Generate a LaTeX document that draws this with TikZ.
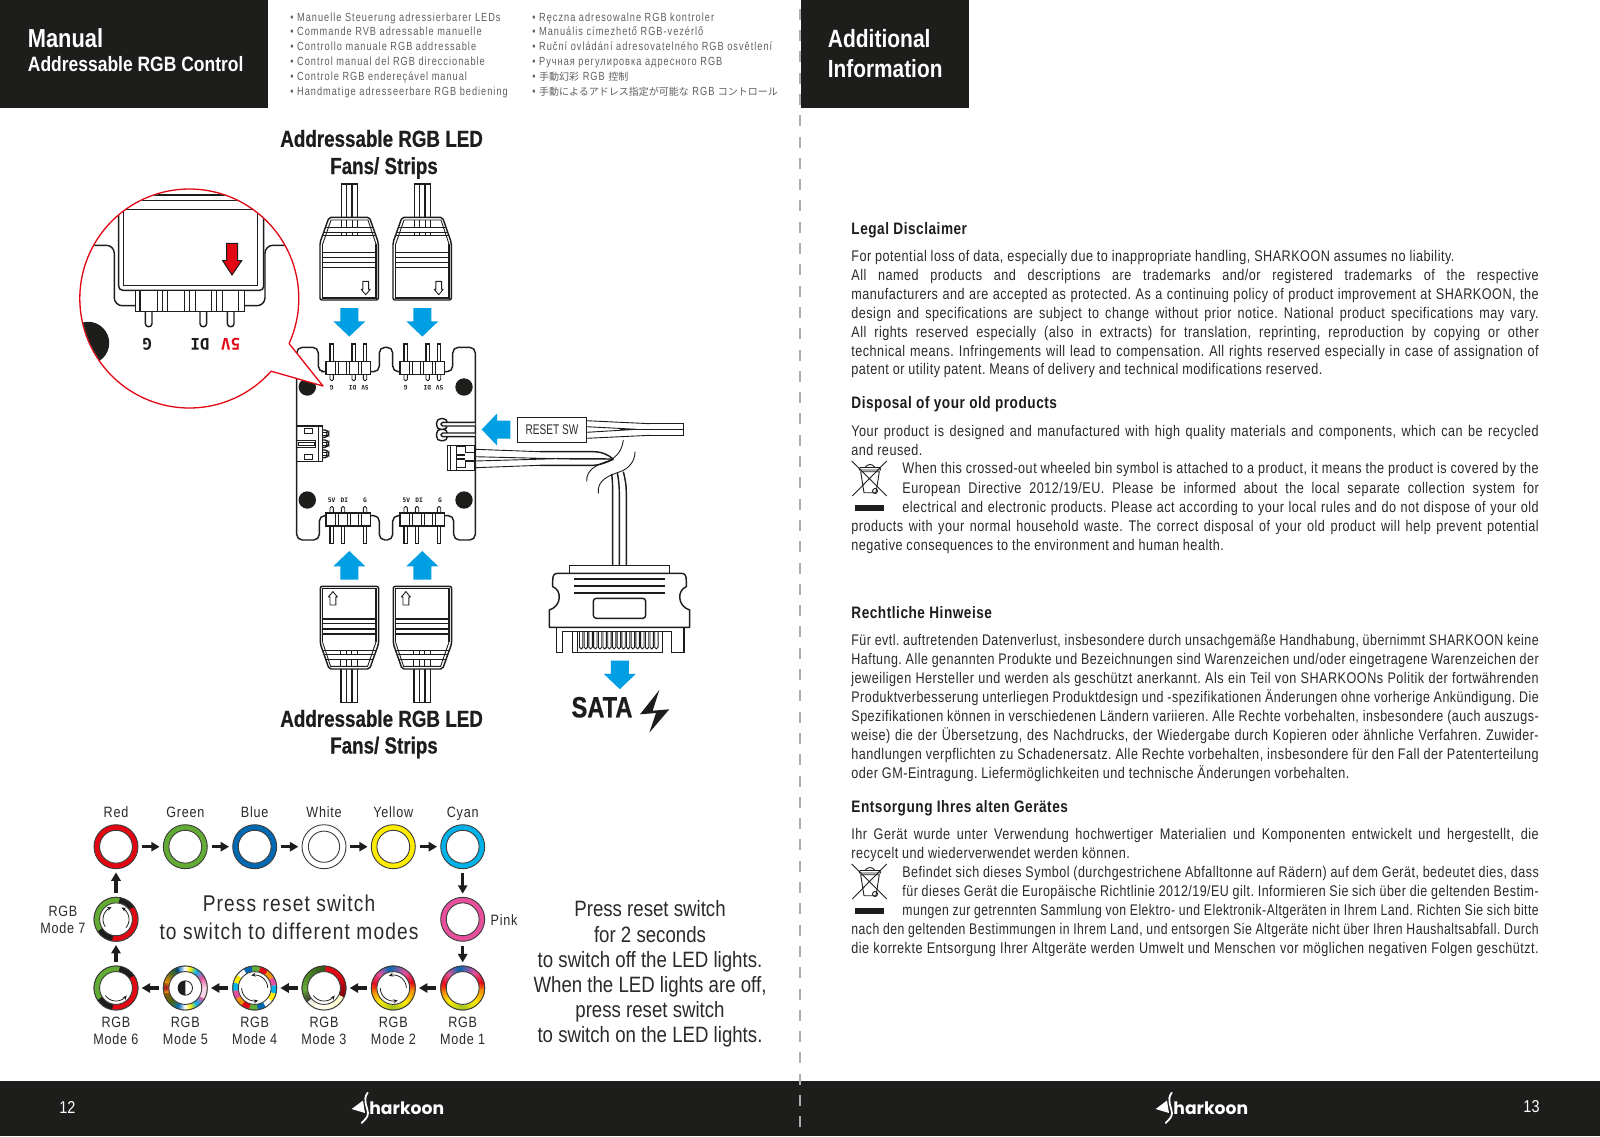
\documentclass[tikz,border=0pt]{standalone}
\usepackage{fontspec}
\usepackage{graphicx}
\usetikzlibrary{arrows.meta}
\setmainfont{Liberation Sans}
\newfontfamily\cond[FakeStretch=0.82,LetterSpace=3.2]{Liberation Sans}
\newfontfamily\condl[FakeStretch=0.84]{Liberation Sans}
\newfontfamily\condls[FakeStretch=0.84,LetterSpace=5]{Liberation Sans}
\newfontfamily\condb[FakeStretch=0.84]{Liberation Sans}
\newfontfamily\condh[FakeStretch=0.81,BoldFeatures={FakeBold=0.6}]{Liberation Sans}
\newfontfamily\resetf[FakeStretch=0.72]{Liberation Sans}
\newfontfamily\bul[FakeStretch=0.78,LetterSpace=8.5]{Liberation Sans}
\newfontfamily\cjk{Noto Sans CJK JP}
\newfontfamily\monob{DejaVu Sans Mono}
\newfontfamily\logof{Poppins}
\definecolor{ink}{HTML}{1D1D1B}
\definecolor{txt}{HTML}{2B2A29}
\definecolor{bulgray}{HTML}{5F5F5E}
\definecolor{blu}{HTML}{009FE3}
\definecolor{rd}{HTML}{E30613}
\definecolor{grn}{HTML}{63AC33}
\definecolor{bl2}{HTML}{0069B4}
\definecolor{yel}{HTML}{FFED00}
\definecolor{cyn}{HTML}{00B2E8}
\definecolor{pnk}{HTML}{E74F9D}
\definecolor{org}{HTML}{F39200}
\definecolor{lim}{HTML}{A8C31D}
\definecolor{edge}{HTML}{3C3C3B}
\newcounter{tl}
\newsavebox\fitb
\newlength\fitw
\newcommand\wordgap{\spaceskip=.25em plus 1em\relax}
\newcommand\fitline[2]{\setlength\fitw{#1}\wordgap\sbox\fitb{#2}\ifdim\wd\fitb>\fitw\resizebox{\fitw}{\height}{\usebox\fitb}\else\makebox[\fitw][s]{#2}\fi}
\tikzset{
  ln/.style={line width=.72pt,draw=ink},
  thinln/.style={line width=.45pt,draw=ink},
  tline/.style={anchor=base west,inner sep=0pt,text=txt,font=\cond\fontsize{7.7}{9}\selectfont\frenchspacing},
  thead/.style={anchor=base west,inner sep=0pt,text=ink,font=\cond\bfseries\fontsize{8.3}{9}\selectfont},
  bullet/.style={anchor=base west,inner sep=0pt,text=bulgray,font=\bul\fontsize{5.9}{7}\selectfont},
  ttl/.style={anchor=base west,inner sep=0pt,text=white,font=\condb\bfseries},
  hd/.style={anchor=center,inner sep=0pt,text=ink,font=\condh\bfseries\fontsize{11.6}{13}\selectfont},
  lab/.style={anchor=base,inner sep=0pt,text=txt,font=\condls\fontsize{7.5}{8}\selectfont},
  bigl/.style={anchor=base,inner sep=0pt,text=txt,font=\condls\fontsize{11.4}{12}\selectfont},
  big/.style={anchor=base,inner sep=0pt,text=txt,font=\condl\fontsize{11.1}{12}\selectfont},
  pinlab/.style={anchor=center,inner sep=0pt,text=ink,font=\monob\bfseries\fontsize{3.1}{4}\selectfont},
  zoomlab/.style={anchor=center,inner sep=0pt,text=ink,font=\monob\bfseries\fontsize{8}{9}\selectfont},
  ring/.style={circle,inner sep=0pt,minimum size=22pt,draw=edge,line width=.45pt,fill=#1},
  ringtop/.style={circle,inner sep=0pt,minimum size=16.4pt,draw=edge,line width=.45pt,fill=white},
  flow/.style={line width=1.75pt,draw=ink,-{Triangle[length=4.2pt,width=4.6pt]},shorten <=2pt,shorten >=1.6pt},
  spin/.style={line width=.38pt,draw=ink,-{Stealth[length=2.2pt,width=2pt]}},
  bluehead/.pic={\fill[blu] (-9,-14.3) -- (9,-14.3) -- (9,-1) -- (16,-1) -- (0,14.3) -- (-16,-1) -- (-9,-1) -- cycle;},
  fanplug/.pic={
    \begin{scope}[shift={(-349.3,-443.15)}]
      \draw[ln] (341.3,217.3) -- (341.3,184) -- (357.7,184) -- (357.7,217.3);
      \draw[ln] (346.7,184) -- (346.7,217.3) (352,184) -- (352,217.3);
      \draw[ln,line join=round,rounded corners=1pt] (329,217.3) -- (369.5,217.3) -- (378.3,242.5) -- (378.3,300) -- (320,300) -- (320,242.5) -- cycle;
      \draw[thinln] (322.7,244) -- (331,220) -- (368,220) -- (376,244);
      \draw[ln] (322.7,244) -- (322.7,298) -- (376,298) -- (376,244);
      \draw[thinln] (325.5,227.3) -- (373,227.3) (323.8,232.3) -- (374.8,232.3) (323,235.7) -- (375.6,235.7);
      \draw[thinln] (341.3,220) -- (341.3,227.3) (346.7,220) -- (346.7,227.3) (352,220) -- (352,227.3) (357.7,220) -- (357.7,227.3);
      \draw[thinln] (341.3,232.3) -- (341.3,235.7) (346.7,232.3) -- (346.7,235.7) (352,232.3) -- (352,235.7) (357.7,232.3) -- (357.7,235.7);
      \draw[ln] (322.7,252.3) -- (376,252.3) (322.7,257.3) -- (376,257.3) (322.7,262.7) -- (376,262.7) (322.7,267.3) -- (376,267.3);
      \draw[thinln,line join=round] (362.8,281.3) -- (368.6,281.3) -- (368.6,289.3) -- (370.2,289.3) -- (365.7,294.7) -- (361.2,289.3) -- (362.8,289.3) -- cycle;
    \end{scope}},
  hdr/.pic={
    \begin{scope}[shift={(-348.35,-367.8)}]
      \foreach \p in {331.7,353.7,365}{
        \draw[ln,fill=white] (\p-1.7,361.3) -- (\p-1.7,344) -- (\p+1.7,344) -- (\p+1.7,361.3);
        \draw[thinln,fill=white,rounded corners=.7pt] (\p-1.7,374.3) -- (\p-1.7,380.7) -- (\p+1.7,380.7) -- (\p+1.7,374.3);
      }
      \draw[ln,fill=white] (326,361.3) rectangle (370.7,374.3);
      \foreach \v in {335,338.2,346.5,349.3,358,361}{\draw[thinln] (\v,361.3) -- (\v,374.3);}
    \end{scope}},
  binicon/.pic={
    \draw[thinln] (851.7,461) -- (886.7,496) (886.7,461) -- (852.3,496);
    \draw[thinln] (860.7,471.7) -- (879.3,471.7) -- (876,492.7) -- (864,492.7) -- cycle;
    \draw[thinln] (859.5,470) -- (880.5,470) -- (880,467.5) -- (860,467.5) -- cycle;
    \draw[thinln] (865,467.5) .. controls (867,463.5) and (873,463.5) .. (875,467.5);
    \draw[thinln] (875,491) circle[radius=1.25pt];
    \fill[ink] (855,505) rectangle (884.3,510.7);},
  logomark/.pic={
    \fill[white] (351.7,1109) -- (363,1100.5) -- (365,1113) -- cycle;
    \draw[white,line width=.9pt,line cap=round] (367.7,1092.7) .. controls (362,1100) and (368,1108) .. (368,1113) .. controls (368,1118) and (364,1120) .. (361.7,1123);
    \node[anchor=west,inner sep=0pt,text=white,font=\logof\bfseries\fontsize{8.6}{10}\selectfont] (lg) at (369,1108.5) {harkoon};},
}
\newcommand\tlnode[3]{\stepcounter{tl}\node[#1] (tl\arabic{tl}) at #2 {#3};}
\newcommand\BN[2]{\tlnode{tline}{(851,{#1+1.5})}{\wordgap #2}}
\newcommand\BJ[2]{\tlnode{tline}{(851,{#1+1.5})}{\fitline{343.7pt}{#2}}}
\newcommand\BI[2]{\tlnode{tline}{(902,{#1+1.5})}{\fitline{318.2pt}{#2}}}
\newcommand\BH[2]{\tlnode{thead}{(851,{#1+1.5})}{#2}}
\newcommand\BU[3]{\tlnode{bullet}{(#1,#2)}{#3}}
% ring band helpers: angles run clockwise on the page, 0 = east
\newcommand\seg[4]{\begin{scope}[shift={(#1.center)}]\draw[line width=2.9pt,draw=#4] plot[domain=#2:#3,samples=6] ({19.3*cos(\x)},{19.3*sin(\x)});\end{scope}}
\newcommand\grad[5]{\foreach \i in {0,...,7}{
  \pgfmathsetmacro\aa{#2+(#3-#2)*\i/8}\pgfmathsetmacro\bb{#2+(#3-#2)*(\i+1.25)/8}\pgfmathsetmacro\pp{(\i+.5)*12.5}
  \seg{#1}{\aa}{\bb}{#5!\pp!#4}}}
\newcommand\ringover[1]{\draw[line width=.45pt,draw=edge] (#1.center) circle[radius=11pt]; \node[ringtop] at (#1.center) {};}
\newcommand\spinarc[4]{\begin{scope}[shift={(#1.center)}]\draw[spin] plot[domain=#2:#3,samples=14] ({#4*cos(\x)},{#4*sin(\x)});\end{scope}}
\newcommand\bbarring[1]{\seg{#1}{145}{282}{grn}\seg{#1}{280}{327}{ink}\seg{#1}{325}{462}{rd}\seg{#1}{100}{147}{ink}}
\newcommand\rainbow[1]{\grad{#1}{260}{310}{bl2}{pnk}\grad{#1}{310}{345}{pnk}{rd}\grad{#1}{345}{370}{rd}{org}\grad{#1}{10}{50}{org}{yel}\grad{#1}{50}{90}{yel}{lim}\grad{#1}{90}{135}{lim}{yel}\grad{#1}{135}{165}{yel}{org}\grad{#1}{165}{190}{org}{rd}\grad{#1}{190}{225}{rd}{pnk}\grad{#1}{225}{260}{pnk}{bl2}}
\begin{document}
\begin{tikzpicture}[x=.5pt,y=-.5pt]
\path[use as bounding box,fill=white] (0,0) rectangle (1600,1136);
% bars
\fill[ink] (0,0) rectangle (268,108);
\fill[ink] (801,0) rectangle (968.5,108);
\fill[ink] (0,1081) rectangle (1600,1136);
\draw[line width=1.3pt,draw=black!32,dash pattern=on 5.5pt off 5.15pt] (800,8.75) -- (800,1136);
% titles
\node[ttl,font=\condb\bfseries\fontsize{13}{14}\selectfont] (t1) at (27.5,47) {Manual};
\node[ttl,font=\condb\bfseries\fontsize{10.4}{12}\selectfont] (t2) at (27.5,71.5) {Addressable RGB Control};
\node[ttl,font=\condb\bfseries\fontsize{12.5}{14}\selectfont] (t3) at (827.5,47) {Additional};
\node[ttl,font=\condb\bfseries\fontsize{12.4}{14}\selectfont] (t4) at (827.5,77) {Information};
% bullets
\BU{290}{21.5}{• Manuelle Steuerung adressierbarer LEDs}
\BU{290}{35.8}{• Commande RVB adressable manuelle}
\BU{290}{50.6}{• Controllo manuale RGB addressable}
\BU{290}{65.4}{• Control manual del RGB direccionable}
\BU{290}{80.2}{• Controle RGB endereçável manual}
\BU{290}{95}{• Handmatige adresseerbare RGB bediening}
\BU{532}{21.5}{• Ręczna adresowalne RGB kontroler}
\BU{532}{35.8}{• Manuális címezhető RGB-vezérlő}
\BU{532}{50.6}{• Ruční ovládání adresovatelného RGB osvětlení}
\BU{532}{65.4}{• Ручная регулировка адресного RGB}
\BU{532}{80.2}{• {\cjk\fontsize{5}{7}\selectfont 手動幻彩} RGB {\cjk\fontsize{5}{7}\selectfont 控制}}
\BU{532}{95}{• {\cjk\fontsize{5}{7}\selectfont 手動によるアドレス指定が可能な} RGB {\cjk\fontsize{5}{7}\selectfont コントロール}}
% right page
\BH{233}{Legal Disclaimer}
\BN{260.1}{For potential loss of data, especially due to inappropriate handling, SHARKOON assumes no liability.}
\BJ{279}{All named products and descriptions are trademarks and/or registered trademarks of the respective}
\BJ{297.9}{manufacturers and are accepted as protected. As a continuing policy of product improvement at SHARKOON, the}
\BJ{316.8}{design and specifications are subject to change without prior notice. National product specifications may vary.}
\BJ{335.6}{All rights reserved especially (also in extracts) for translation, reprinting, reproduction by copying or other}
\BJ{354.5}{technical means. Infringements will lead to compensation. All rights reserved especially in case of assignation of}
\BN{373.4}{patent or utility patent. Means of delivery and technical modifications reserved.}
\BH{407}{Disposal of your old products}
\BJ{434.6}{Your product is designed and manufactured with high quality materials and components, which can be recycled}
\BN{454}{and reused.}
\BI{472.4}{When this crossed-out wheeled bin symbol is attached to a product, it means the product is covered by the}
\BI{491.8}{European Directive 2012/19/EU. Please be informed about the local separate collection system for}
\BI{511.1}{electrical and electronic products. Please act according to your local rules and do not dispose of your old}
\BJ{530}{products with your normal household waste. The correct disposal of your old product will help prevent potential}
\BN{548.9}{negative consequences to the environment and human health.}
\BH{617.3}{Rechtliche Hinweise}
\BJ{643.8}{Für evtl. auftretenden Datenverlust, insbesondere durch unsachgemäße Handhabung, übernimmt SHARKOON keine}
\BJ{663.2}{Haftung. Alle genannten Produkte und Bezeichnungen sind Warenzeichen und/oder eingetragene Warenzeichen der}
\BJ{682}{jeweiligen Hersteller und werden als geschützt anerkannt. Als ein Teil von SHARKOONs Politik der fortwährenden}
\BJ{701}{Produktverbesserung unterliegen Produktdesign und -spezifikationen Änderungen ohne vorherige Ankündigung. Die}
\BJ{719.8}{Spezifikationen können in verschiedenen Ländern variieren. Alle Rechte vorbehalten, insbesondere (auch auszugs-}
\BJ{738.7}{weise) die der Übersetzung, des Nachdrucks, der Wiedergabe durch Kopieren oder ähnliche Verfahren. Zuwider-}
\BJ{757.6}{handlungen verpflichten zu Schadenersatz. Alle Rechte vorbehalten, insbesondere für den Fall der Patenterteilung}
\BN{776.5}{oder GM-Eintragung. Liefermöglichkeiten und technische Änderungen vorbehalten.}
\BH{811}{Entsorgung Ihres alten Gerätes}
\BJ{837.7}{Ihr Gerät wurde unter Verwendung hochwertiger Materialien und Komponenten entwickelt und hergestellt, die}
\BN{857}{recycelt und wiederverwendet werden können.}
\BI{876}{Befindet sich dieses Symbol (durchgestrichene Abfalltonne auf Rädern) auf dem Gerät, bedeutet dies, dass}
\BI{894.8}{für dieses Gerät die Europäische Richtlinie 2012/19/EU gilt. Informieren Sie sich über die geltenden Bestim-}
\BI{913.7}{mungen zur getrennten Sammlung von Elektro- und Elektronik-Altgeräten in Ihrem Land. Richten Sie sich bitte}
\BJ{932.6}{nach den geltenden Bestimmungen in Ihrem Land, und entsorgen Sie Altgeräte nicht über Ihren Haushaltsabfall. Durch}
\BJ{952}{die korrekte Entsorgung Ihrer Altgeräte werden Umwelt und Menschen vor möglichen negativen Folgen geschützt.}
\pic (bin1) at (0,0) {binicon};
\pic (bin2) at (0,403) {binicon};
% footer
\node[anchor=center,inner sep=0pt,text=white,font=\condl\fontsize{8.6}{9}\selectfont] (p12) at (67.5,1107) {12};
\node[anchor=center,inner sep=0pt,text=white,font=\condl\fontsize{8.6}{9}\selectfont] (p13) at (1531.5,1107) {13};
\pic (lg1) at (0,0) {logomark};
\pic (lg2) at (804,0) {logomark};
% headings
\node[hd] (h1) at (381.6,138.5) {Addressable RGB LED};
\node[hd] (h2) at (384,168) {Fans/ Strips};
\node[hd] (h3) at (381.6,718.5) {Addressable RGB LED};
\node[hd] (h4) at (384,747.5) {Fans/ Strips};
% fan plugs
\pic (pa) at (349.3,443.15) {fanplug};
\pic (pb) at (422.3,443.15) {fanplug};
\pic[rotate=180] (pc) at (349.3,443.15) {fanplug};
\pic[rotate=180] (pd) at (422.3,443.15) {fanplug};
\pic (ba) at (349.3,322.3) {bluehead};
\pic (bb) at (422.3,322.3) {bluehead};
\pic[rotate=180] (bc) at (349.3,565.3) {bluehead};
\pic[rotate=180] (bd) at (422.3,565.3) {bluehead};
\pic[rotate=-90] (be) at (496,429.5) {bluehead};
\pic (bf) at (619.8,674.9) {bluehead};
% board
\draw[ln,rounded corners=2.8pt] (296.7,400) -- (296.7,347.3) -- (318.3,347.3) -- (318.3,371.7) -- (327,371.7) -- (379.3,371.7) -- (379.3,347.3) -- (392.7,347.3) -- (392.7,371.7) -- (452.7,371.7) -- (452.7,347.3) -- (475.3,347.3) -- (475.3,540) -- (453.7,540) -- (453.7,515.6) -- (392.7,515.6) -- (392.7,540) -- (379.3,540) -- (379.3,515.6) -- (319.3,515.6) -- (319.3,540) -- (296.7,540) -- (296.7,400);
\pic (h11) at (348.35,367.8) {hdr};
\pic (h12) at (422.35,367.8) {hdr};
\pic[rotate=180] (h21) at (348.35,519.5) {hdr};
\pic[rotate=180] (h22) at (422.35,519.5) {hdr};
\foreach \hx/\hy in {307.3/387,464/387,307.3/500,464/500}{\fill[ink] (\hx,\hy) circle[radius=4.35pt];}
% board labels
\node[pinlab,rotate=180] (gl1) at (331.7,387.3) {G};
\node[pinlab,rotate=180] (dl1) at (352.7,387.3) {DI};
\node[pinlab,rotate=180] (vl1) at (365,387.3) {5V};
\node[pinlab,rotate=180] (gl2) at (405.7,387.3) {G};
\node[pinlab,rotate=180] (dl2) at (427.3,387.3) {DI};
\node[pinlab,rotate=180] (vl2) at (439.7,387.3) {5V};
\node[pinlab] (vl3) at (331.7,500.7) {5V};
\node[pinlab] (dl3) at (344.3,500.7) {DI};
\node[pinlab] (gl3) at (365,500.7) {G};
\node[pinlab] (vl4) at (406.3,500.7) {5V};
\node[pinlab] (dl4) at (419,500.7) {DI};
\node[pinlab] (gl4) at (440,500.7) {G};
% left socket on the board
\draw[ln] (296.7,426) -- (322.7,426) -- (322.7,461.7) -- (296.7,461.7);
\draw[thinln] (318.3,426) -- (318.3,461.7);
\draw[ln] (304.3,428.3) rectangle (312.7,433.3) (304.3,454.3) rectangle (312.7,459.3);
\draw[ln] (296.7,440.3) rectangle (315.7,447.3);
\draw[thinln] (298.3,442.3) rectangle (314,445.3);
\foreach \ya/\yb in {430/437.3,440/447.3,450/457.7}{\draw[ln,rounded corners=2pt] (322.7,\ya) -- (328.7,\ya) -- (328.7,\yb) -- (322.7,\yb);\draw[thinln] (322.7,\ya+2) -- (326,\ya+2) -- (326,\yb-2) -- (322.7,\yb-2);}
% right pins on the board
\draw[ln,rounded corners=2pt] (436.7,418.7) rectangle (447.3,429.3) (436.7,429.3) rectangle (447.3,440.7);
\draw[ln,fill=white,rounded corners=.8pt] (475,422.3) -- (441,422.3) -- (441,426) -- (475,426);
\draw[ln,fill=white,rounded corners=.8pt] (475,433) -- (441,433) -- (441,436.7) -- (475,436.7);
% right socket and wires
\draw[ln] (447.3,445.3) rectangle (475,470.3);
\draw[thinln] (450.7,445.3) -- (450.7,470.3);
\draw[ln] (456.7,445.3) -- (456.7,470.3);
\draw[ln] (456.7,446.3) -- (465.7,446.3) -- (465.7,452.7) -- (474.5,452.7) -- (474.5,461) -- (465.7,461) -- (465.7,467.5) -- (456.7,467.5) (456.7,455) -- (465,455) (456.7,459) -- (465,459);
\draw[thinln] (475,449.3) -- (540,451.7);
\draw[ln] (540,451.7) -- (593.3,451.7) .. controls (602,451.7) and (609,455) .. (613.3,459.3);
\draw[thinln] (475,456.7) -- (556.7,458.7) (475,461) -- (556.7,458.7);
\draw[ln] (556.7,458.7) -- (613.3,459);
\draw[thinln] (475,467.7) -- (540,465.3);
\draw[ln] (540,465.3) -- (593.3,465.3) .. controls (601,465) and (607,462) .. (613.3,459.3);
\draw[thinln] (623.3,440) .. controls (622,452) and (615,458) .. (608,461) .. controls (596,465) and (586,470) .. (586.7,481.7);
\draw[thinln] (635,451.7) .. controls (635,462) and (628,469) .. (620,471.7) .. controls (608,476) and (597,480) .. (598.3,493.3);
\draw[ln] (611.7,474) .. controls (612.4,480) and (612.7,486) .. (612.7,493) -- (612.7,565.3);
\draw[ln] (617.3,472.7) .. controls (618.7,480) and (619.3,486) .. (619.3,493) -- (619.3,565.3);
\draw[ln] (623.3,471.7) .. controls (625.5,480) and (626.3,486) .. (626.3,493) -- (626.3,565.3);
% reset switch
\node[draw=ink,line width=.72pt,inner sep=0pt,minimum width=34.7pt,minimum height=12.5pt,text=txt,font=\resetf\fontsize{7}{9}\selectfont] (rst) at (552,429.8) {RESET SW};
\draw[thinln] (586.7,420.7) -- (650,423.7);
\draw[thinln] (586.7,426.7) -- (636.7,429.3) (586.7,432.3) -- (636.7,429.3) (586.7,438.3) -- (650,435.3);
\draw[ln] (650,423.7) -- (683.3,423.7) -- (683.3,435.3) -- (650,435.3) (620,429.3) -- (683.3,429.3);
% SATA plug
\draw[ln,fill=white] (569.3,573.3) rectangle (669.3,565.3);
\draw[ln,fill=white,line join=round] (552.7,581) .. controls (552.7,575) and (554,573.3) .. (558,573.3) -- (681,573.3) .. controls (685,573.3) and (686.3,575) .. (686.3,581) -- (686.3,586.7) .. controls (677,590) and (677,606) .. (689.7,610) -- (689.7,627.3) -- (549.3,627.3) -- (549.3,610) .. controls (562,606) and (562,590) .. (552.7,586.7) -- cycle;
\draw[line width=1.1pt,draw=ink] (574.3,579.3) -- (665,579.3) (574.3,586) -- (665,586) (574.3,592.7) -- (665,592.7);
\draw[ln,rounded corners=1.5pt] (593.3,598.3) rectangle (645.7,618.3);
\draw[ln] (556.3,627.3) -- (556.3,652.3) -- (562.7,652.3) -- (562.7,631.3) -- (671.7,631.3) -- (671.7,652.3) -- (684,652.3) -- (684,627.3);
\draw[ln] (572.3,631.3) -- (572.3,652.3) -- (662.7,652.3) -- (662.7,631.3);
\draw[ln] (577.7,631.3) -- (577.7,652.3);
\foreach \tx in {579.5,584.2,...,658}{\draw[thinln,rounded corners=.8pt] (\tx,631.3) -- (\tx,648.8) -- (\tx+3.4,648.8) -- (\tx+3.4,631.3);}
% SATA label
\node[anchor=base,inner sep=0pt,text=ink,font=\condh\bfseries\fontsize{14.6}{16}\selectfont] (sata) at (602,717.3) {SATA};
\fill[ink] (659.3,690) -- (640,714.3) -- (656,713) -- (649.3,732.7) -- (669.3,709.3) -- (652.7,710.7) -- cycle;
% callout
\begin{scope}
\draw[line width=.65pt,draw=rd,fill=white,line join=round] plot[domain=41.6:384.3,samples=150] ({189.3+109.5*cos(\x)},{298.5+109.5*sin(\x)}) -- (323,386) -- cycle;
\clip (189.3,298.5) circle[radius=54.4pt];
\fill[ink] (88,343) circle[radius=10.6pt];
\draw[ln] (80,195) -- (300,195) (80,200.7) -- (300,200.7);
\draw[ln] (123.3,209.3) -- (257.7,209.3) -- (257.7,285.7) -- (123.3,285.7) -- cycle;
\draw[ln] (80,209.3) -- (300,209.3);
\draw[ln,rounded corners=2pt] (118.7,190) -- (118.7,290.3) -- (263.7,290.3) -- (263.7,190);
\draw[ln,rounded corners=4pt] (85,245.3) -- (114.3,245.3) -- (114.3,305.7) -- (135.3,305.7);
\draw[ln,rounded corners=4pt] (290,245.3) -- (265,245.3) -- (265,305.7) -- (245,305.7);
\foreach \p in {148.7,203.3,230.7}{\draw[ln,rounded corners=1.5pt] (\p-3.3,311.3) -- (\p-3.3,326.7) -- (\p+3.3,326.7) -- (\p+3.3,311.3);}
\draw[ln,fill=white] (135.3,290.3) rectangle (244.7,311.3);
\foreach \v in {140,157.3,162.3,167.3,184.3,189.3,195.3,211.3,216.3,222.3,238.7}{\draw[ln] (\v,290.3) -- (\v,311.3);}
\draw[line width=.5pt,draw=ink,fill=rd] (226.7,243.3) -- (237.7,243.3) -- (237.7,260.7) -- (241.7,260.7) -- (232,275) -- (222.7,260.7) -- (226.7,260.7) -- cycle;
\node[zoomlab,rotate=180] (zg) at (147.3,344) {G};
\node[zoomlab,rotate=180] (zd) at (200,344) {DI};
\node[zoomlab,rotate=180,text=rd] (zv) at (230.7,344) {5V};
\end{scope}
% ring nodes
\node[ring=rd] (rr) at (116,846.7) {};
\node[ring=grn] (rg) at (185.3,846.7) {};
\node[ring=bl2] (rb) at (254.7,846.7) {};
\node[ring=white] (rw) at (324,846.7) {};
\node[ring=yel] (ry) at (393.3,846.7) {};
\node[ring=cyn] (rc) at (462.7,846.7) {};
\node[ring=pnk] (rp) at (462.7,919.3) {};
\node[ring=white] (m1) at (462.7,988) {};
\node[ring=white] (m2) at (393.3,988) {};
\node[ring=white] (m3) at (324,988) {};
\node[ring=white] (m4) at (254.7,988) {};
\node[ring=white] (m5) at (185.3,988) {};
\node[ring=white] (m6) at (116,988) {};
\node[ring=white] (m7) at (116,919.3) {};
\rainbow{m1}\rainbow{m2}
\seg{m3}{270}{340}{rd}\grad{m3}{325}{385}{rd}{rd!55!black}\grad{m3}{25}{120}{yel!22!white}{yel!12!white}\grad{m3}{115}{140}{yel!12!white}{edge}\grad{m3}{140}{175}{edge}{grn}\grad{m3}{175}{271}{grn}{grn!50!black}
\foreach \k/\col in {0/grn,1/rd,2/org,3/pnk,4/cyn,5/yel,6/white,7/bl2,8/grn,9/rd,10/org,11/pnk,12/cyn,13/yel,14/white,15/bl2}{\pgfmathsetmacro\sa{262.5+22.5*\k}\pgfmathsetmacro\sb{\sa+22.7}\seg{m4}{\sa}{\sb}{\col}}
\grad{m5}{270}{285}{white}{yel}\grad{m5}{285}{305}{yel}{cyn}\grad{m5}{305}{330}{cyn}{pnk}\grad{m5}{330}{360}{pnk}{pnk!25!white}\grad{m5}{0}{30}{pnk!25!white}{pnk}\grad{m5}{30}{55}{pnk}{cyn}\grad{m5}{55}{75}{cyn}{yel}\grad{m5}{75}{90}{yel}{white}\grad{m5}{90}{110}{white}{bl2}\grad{m5}{110}{130}{bl2}{grn!60!black}\grad{m5}{130}{165}{grn!60!black}{org}\grad{m5}{165}{180}{org}{rd!70!black}\grad{m5}{180}{195}{rd!70!black}{org}\grad{m5}{195}{230}{org}{grn!60!black}\grad{m5}{230}{250}{grn!60!black}{bl2}\grad{m5}{250}{270}{bl2}{white}
\bbarring{m6}\bbarring{m7}
\foreach \r in {rr,rg,rb,ry,rc,rp}{\node[ringtop] at (\r.center) {};}
\node[ringtop,minimum size=15.6pt] at (rw.center) {};
\foreach \r in {m1,m2,m3,m4,m5,m6,m7}{\ringover{\r}}
\spinarc{m2}{0}{-110}{13}\spinarc{m2}{180}{70}{13}
\spinarc{m3}{145}{35}{13}
\spinarc{m4}{0}{-105}{13}\spinarc{m4}{180}{75}{13}
\spinarc{m6}{145}{35}{13}
\spinarc{m7}{145}{250}{13}\spinarc{m7}{40}{-65}{13}
\begin{scope}[shift={(m5.center)}]
\draw[line width=.4pt,draw=ink,fill=white] (0,0) circle[radius=3.6pt];
\fill[ink] plot[domain=90:270,samples=24] ({7.2*cos(\x)},{7.2*sin(\x)}) -- cycle;
\end{scope}
% ring connectors
\draw[flow] (rr) -- (rg);
\draw[flow] (rg) -- (rb);
\draw[flow] (rb) -- (rw);
\draw[flow] (rw) -- (ry);
\draw[flow] (ry) -- (rc);
\draw[flow] (rc) -- (rp);
\draw[flow] (rp) -- (m1);
\draw[flow] (m1) -- (m2);
\draw[flow] (m2) -- (m3);
\draw[flow] (m3) -- (m4);
\draw[flow] (m4) -- (m5);
\draw[flow] (m5) -- (m6);
\draw[flow] (m6) -- (m7);
\draw[flow] (m7) -- (rr);
% ring labels
\node[lab] (lr) at (116,817) {Red};
\node[lab] (lg) at (185.3,817) {Green};
\node[lab] (lb) at (254.7,817) {Blue};
\node[lab] (lw) at (324,817) {White};
\node[lab] (ly) at (393.3,817) {Yellow};
\node[lab] (lc) at (462.7,817) {Cyan};
\node[lab] (lp) at (504,925.5) {Pink};
\node[lab,anchor=center,align=center] (l7) at (63,920) {RGB\\[.7pt]Mode 7};
\node[lab,anchor=center,align=center] (l1) at (462.7,1031) {RGB\\[.7pt]Mode 1};
\node[lab,anchor=center,align=center] (l2) at (393.3,1031) {RGB\\[.7pt]Mode 2};
\node[lab,anchor=center,align=center] (l3) at (324,1031) {RGB\\[.7pt]Mode 3};
\node[lab,anchor=center,align=center] (l4) at (254.7,1031) {RGB\\[.7pt]Mode 4};
\node[lab,anchor=center,align=center] (l5) at (185.3,1031) {RGB\\[.7pt]Mode 5};
\node[lab,anchor=center,align=center] (l6) at (116,1031) {RGB\\[.7pt]Mode 6};
% captions
\node[bigl] (cp1) at (289,911.7) {Press reset switch};
\node[bigl] (cp2) at (289,939.4) {to switch to different modes};
\node[big] (cq1) at (650,916.7) {Press reset switch};
\node[big] (cq2) at (650,942.2) {for 2 seconds};
\node[big] (cq3) at (650,967.7) {to switch off the LED lights.};
\node[big] (cq4) at (650,992.2) {When the LED lights are off,};
\node[big] (cq5) at (650,1017.7) {press reset switch};
\node[big] (cq6) at (650,1042.2) {to switch on the LED lights.};
\end{tikzpicture}
\end{document}
